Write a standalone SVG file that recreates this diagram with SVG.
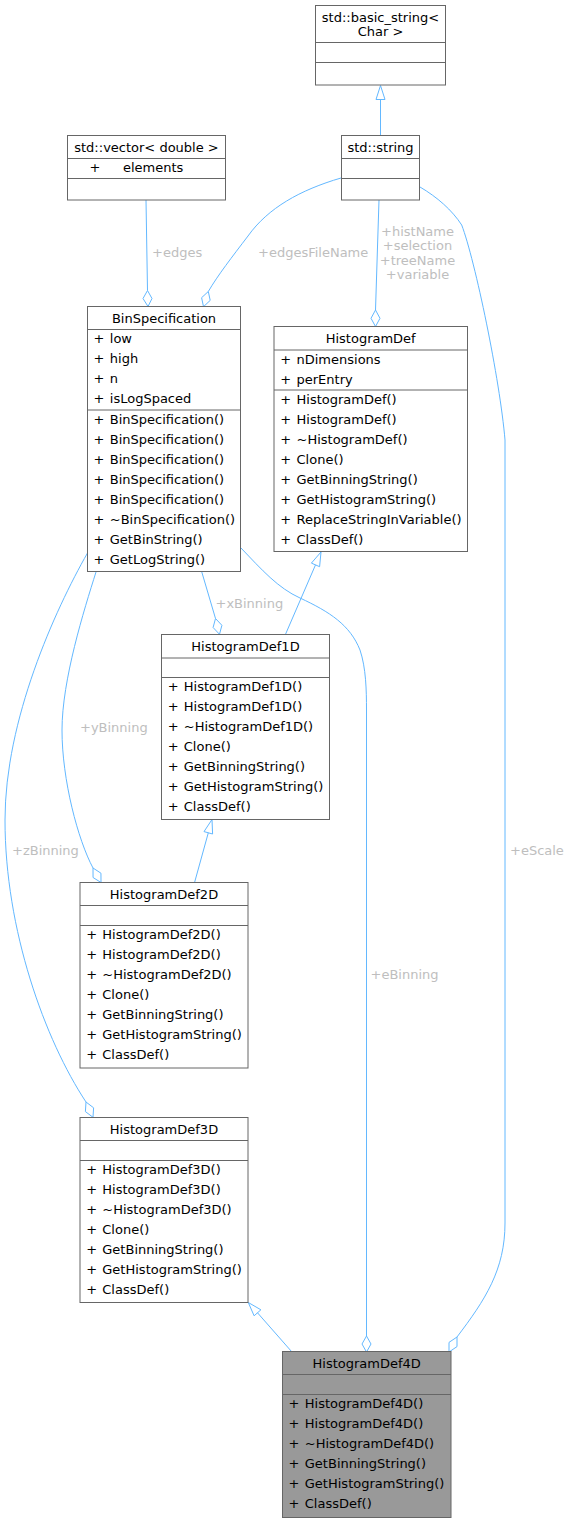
<svg xmlns="http://www.w3.org/2000/svg" width="570" height="1523" viewBox="0 0 570 1523">
<style>
text{font-family:"DejaVu Sans","Liberation Sans",sans-serif;font-size:13px;fill:#000}
.t{text-anchor:middle}
.lbl{fill:#bebebe}
.lblm{fill:#bebebe;text-anchor:middle}
.box{fill:#fff;stroke:#666666;stroke-width:1}
.cur{fill:#999999;stroke:#666666;stroke-width:1}
.sep{stroke:#666666;stroke-width:1;fill:none}
.e{fill:none;stroke:#63b8ff;stroke-width:1}
.ah{fill:none;stroke:#63b8ff;stroke-width:1}
</style>
<rect width="570" height="1523" fill="#fff"/>
<g id="edges">
  <path class="e" d="M380.5,135.5 L380.5,99.5"/>
  <polygon class="ah" points="380.5,85.5 385,99.5 376,99.5"/>
  <path class="e" d="M146,200 L147.5,290.5"/>
  <polygon class="ah" points="147.5,290.5 152,298.5 148,306.5 143,298.5"/>
  <path class="e" d="M341,178 C300,190 268,208 248,236 C232,257 218,275 208.3,291.5"/>
  <polygon class="ah" points="208.3,291.5 210.2,300.4 203.5,306.7 201.6,297.7"/>
  <path class="e" d="M379,200 L375.5,310"/>
  <polygon class="ah" points="375.5,310 380,318.3 375.5,326.5 371,318.3"/>
  <path class="e" d="M420,187 C437,197 452,210 461.7,225 C475,260 500,380 505,440 L505,1223 C505,1270 485,1300 457,1337"/>
  <polygon class="ah" points="457,1337 457,1346.6 449,1352 449,1342.4"/>
  <path class="e" d="M241,548 C262,570 278,588 300,598 C330,612 350,625 360,650 C366,668 366.5,690 366.5,710 L366.5,1336"/>
  <polygon class="ah" points="366.5,1336 371,1344 366.5,1352 362,1344"/>
  <path class="e" d="M201.7,571.7 L215.5,618.5"/>
  <polygon class="ah" points="215.5,618.5 221.9,625.3 219.5,634.3 213.1,627.5"/>
  <path class="e" d="M285.5,634.3 L315.5,564.9"/>
  <polygon class="ah" points="321,552 319.6,566.7 311.4,563.1"/>
  <path class="e" d="M194.5,882.7 L208.3,832.8"/>
  <polygon class="ah" points="212,819.5 212.6,834 204,831.6"/>
  <path class="e" d="M96,572 C84,610 62,680 62,730 C62,780 78,840 93,868"/>
  <polygon class="ah" points="93,868 100.95,873.2 101,882.5 93.05,877.5"/>
  <path class="e" d="M87.5,553 C55,610 5,720 5,820 C5,930 45,1040 86,1102"/>
  <polygon class="ah" points="86,1102 93.6,1107.8 93,1117.3 85.4,1111.6"/>
  <path class="e" d="M291.7,1351.7 L257.5,1312.8"/>
  <polygon class="ah" points="248.3,1302.5 260.9,1309.8 254.1,1315.8"/>
  <text class="lbl" x="152" y="257">+edges</text>
  <text class="lbl" x="258" y="257">+edgesFileName</text>
  <text class="lblm" x="417.5" y="235.5">+histName</text>
  <text class="lblm" x="417.5" y="250">+selection</text>
  <text class="lblm" x="417.5" y="264.5">+treeName</text>
  <text class="lblm" x="417.5" y="279">+variable</text>
  <text class="lbl" x="215.5" y="608">+xBinning</text>
  <text class="lbl" x="80" y="732">+yBinning</text>
  <text class="lbl" x="12" y="854.5">+zBinning</text>
  <text class="lbl" x="510" y="854.5">+eScale</text>
  <text class="lbl" x="370.5" y="978.5">+eBinning</text>
</g>
<g id="basic_string">
  <rect class="box" x="315.5" y="5.5" width="130" height="79.5"/>
  <path class="sep" d="M315.5,42.5 H445.5 M315.5,62.5 H445.5"/>
  <text class="t" x="380.5" y="21.5">std::basic_string&lt;</text>
  <text class="t" x="380.5" y="36">Char &gt;</text>
</g>
<g id="std_vector">
  <rect class="box" x="67.5" y="135.5" width="158" height="64.5"/>
  <path class="sep" d="M67.5,158.5 H225.5 M67.5,178.5 H225.5"/>
  <text class="t" x="146.5" y="151.5">std::vector&lt; double &gt;</text>
  <text x="89.5" y="171.5">+</text>
  <text x="123" y="171.5">elements</text>
</g>
<g id="std_string">
  <rect class="box" x="341.5" y="135.5" width="78" height="64.5"/>
  <path class="sep" d="M341.5,158.5 H419.5 M341.5,178.5 H419.5"/>
  <text class="t" x="380.5" y="151.5">std::string</text>
</g>
<g id="BinSpecification">
  <rect class="box" x="87.5" y="306.5" width="153" height="265"/>
  <path class="sep" d="M87.5,329.5 H240.5 M87.5,410 H240.5"/>
  <text class="t" x="164" y="323">BinSpecification</text>
  <text x="93.5" y="343.2">+</text><text x="109.8" y="343.2">low</text>
  <text x="93.5" y="363.2">+</text><text x="109.8" y="363.2">high</text>
  <text x="93.5" y="383.2">+</text><text x="109.8" y="383.2">n</text>
  <text x="93.5" y="403.2">+</text><text x="109.8" y="403.2">isLogSpaced</text>
  <text x="93.5" y="424">+</text><text x="109.8" y="424">BinSpecification()</text>
  <text x="93.5" y="444">+</text><text x="109.8" y="444">BinSpecification()</text>
  <text x="93.5" y="464">+</text><text x="109.8" y="464">BinSpecification()</text>
  <text x="93.5" y="484">+</text><text x="109.8" y="484">BinSpecification()</text>
  <text x="93.5" y="504">+</text><text x="109.8" y="504">BinSpecification()</text>
  <text x="93.5" y="524">+</text><text x="109.8" y="524">~BinSpecification()</text>
  <text x="93.5" y="544">+</text><text x="109.8" y="544">GetBinString()</text>
  <text x="93.5" y="564">+</text><text x="109.8" y="564">GetLogString()</text>
</g>
<g id="HistogramDef">
  <rect class="box" x="274" y="326.5" width="193.5" height="225"/>
  <path class="sep" d="M274,350 H467.5 M274,390 H467.5"/>
  <text class="t" x="370.7" y="343">HistogramDef</text>
  <text x="280.2" y="363.7">+</text><text x="296.5" y="363.7">nDimensions</text>
  <text x="280.2" y="383.7">+</text><text x="296.5" y="383.7">perEntry</text>
  <text x="280.2" y="403.7">+</text><text x="296.5" y="403.7">HistogramDef()</text>
  <text x="280.2" y="423.7">+</text><text x="296.5" y="423.7">HistogramDef()</text>
  <text x="280.2" y="443.7">+</text><text x="296.5" y="443.7">~HistogramDef()</text>
  <text x="280.2" y="463.7">+</text><text x="296.5" y="463.7">Clone()</text>
  <text x="280.2" y="483.7">+</text><text x="296.5" y="483.7">GetBinningString()</text>
  <text x="280.2" y="503.7">+</text><text x="296.5" y="503.7">GetHistogramString()</text>
  <text x="280.2" y="523.7">+</text><text x="296.5" y="523.7">ReplaceStringInVariable()</text>
  <text x="280.2" y="543.7">+</text><text x="296.5" y="543.7">ClassDef()</text>
</g>
<g id="HistogramDef1D">
  <rect class="box" x="161.5" y="634.5" width="168" height="185"/>
  <path class="sep" d="M161.5,658 H329.5 M161.5,677.5 H329.5"/>
  <text class="t" x="245.5" y="651">HistogramDef1D</text>
  <text x="167.8" y="691.2">+</text><text x="183.8" y="691.2">HistogramDef1D()</text>
  <text x="167.8" y="711.2">+</text><text x="183.8" y="711.2">HistogramDef1D()</text>
  <text x="167.8" y="731.2">+</text><text x="183.8" y="731.2">~HistogramDef1D()</text>
  <text x="167.8" y="751.2">+</text><text x="183.8" y="751.2">Clone()</text>
  <text x="167.8" y="771.2">+</text><text x="183.8" y="771.2">GetBinningString()</text>
  <text x="167.8" y="791.2">+</text><text x="183.8" y="791.2">GetHistogramString()</text>
  <text x="167.8" y="811.2">+</text><text x="183.8" y="811.2">ClassDef()</text>
</g>
<g id="HistogramDef2D">
  <rect class="box" x="80" y="882.5" width="168" height="185.5"/>
  <path class="sep" d="M80,905.5 H248 M80,925.5 H248"/>
  <text class="t" x="164" y="899.3">HistogramDef2D</text>
  <text x="86.2" y="939.2">+</text><text x="102.3" y="939.2">HistogramDef2D()</text>
  <text x="86.2" y="959.2">+</text><text x="102.3" y="959.2">HistogramDef2D()</text>
  <text x="86.2" y="979.2">+</text><text x="102.3" y="979.2">~HistogramDef2D()</text>
  <text x="86.2" y="999.2">+</text><text x="102.3" y="999.2">Clone()</text>
  <text x="86.2" y="1019.2">+</text><text x="102.3" y="1019.2">GetBinningString()</text>
  <text x="86.2" y="1039.2">+</text><text x="102.3" y="1039.2">GetHistogramString()</text>
  <text x="86.2" y="1059.2">+</text><text x="102.3" y="1059.2">ClassDef()</text>
</g>
<g id="HistogramDef3D">
  <rect class="box" x="80" y="1117.5" width="168" height="185"/>
  <path class="sep" d="M80,1140.5 H248 M80,1160.5 H248"/>
  <text class="t" x="164" y="1134.2">HistogramDef3D</text>
  <text x="86.2" y="1174.2">+</text><text x="102.3" y="1174.2">HistogramDef3D()</text>
  <text x="86.2" y="1194.2">+</text><text x="102.3" y="1194.2">HistogramDef3D()</text>
  <text x="86.2" y="1214.2">+</text><text x="102.3" y="1214.2">~HistogramDef3D()</text>
  <text x="86.2" y="1234.2">+</text><text x="102.3" y="1234.2">Clone()</text>
  <text x="86.2" y="1254.2">+</text><text x="102.3" y="1254.2">GetBinningString()</text>
  <text x="86.2" y="1274.2">+</text><text x="102.3" y="1274.2">GetHistogramString()</text>
  <text x="86.2" y="1294.2">+</text><text x="102.3" y="1294.2">ClassDef()</text>
</g>
<g id="HistogramDef4D">
  <rect class="cur" x="282.5" y="1351.5" width="168.5" height="166"/>
  <path class="sep" d="M282.5,1374.5 H451 M282.5,1394.5 H451"/>
  <text class="t" x="366.7" y="1368">HistogramDef4D</text>
  <text x="288.6" y="1408">+</text><text x="304.8" y="1408">HistogramDef4D()</text>
  <text x="288.6" y="1428">+</text><text x="304.8" y="1428">HistogramDef4D()</text>
  <text x="288.6" y="1448">+</text><text x="304.8" y="1448">~HistogramDef4D()</text>
  <text x="288.6" y="1468">+</text><text x="304.8" y="1468">GetBinningString()</text>
  <text x="288.6" y="1488">+</text><text x="304.8" y="1488">GetHistogramString()</text>
  <text x="288.6" y="1508">+</text><text x="304.8" y="1508">ClassDef()</text>
</g>
</svg>
